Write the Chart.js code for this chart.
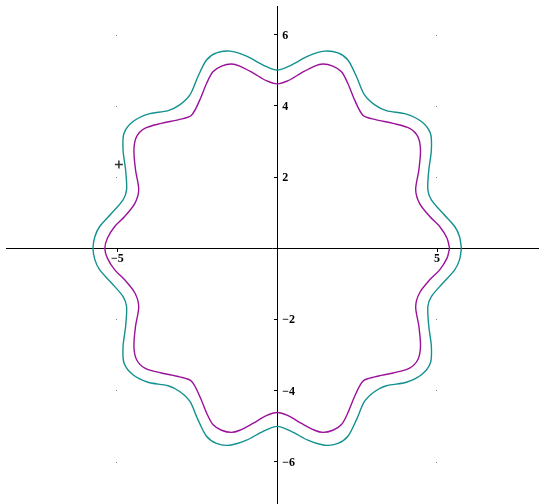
<!DOCTYPE html>
<html>
<head>
<meta charset="utf-8">
<script src="https://cdn.jsdelivr.net/npm/chart.js@4"></script>
<style>
  html, body { margin: 0; padding: 0; background: #fff; overflow: hidden; }
  #wrap { width: 539px; height: 504px; overflow: hidden; }
</style>
</head>
<body>
<div id="wrap"><canvas id="myChart" width="544" height="509"></canvas></div>
<script>
// axis ranges and ticks
const xMin = -8.48, xMax = 8.17;
const yMin = -7.18, yMax = 6.81;
const xTickVals = [-5, 5];
const yTickVals = [-6, -4, -2, 2, 4, 6];

// inner curve (magenta)
const innerX = [5.39, 5.31, 5.08, 4.77, 4.45, 4.33, 4.43, 4.48, 4.40, 4.14, 3.62, 3.05, 2.68, 2.42, 2.21, 2.01, 1.74, 1.43, 1.17, 0.76, 0.34, 0,
  -0.34, -0.76, -1.17, -1.43, -1.74, -2.01, -2.21, -2.42, -2.68, -3.05, -3.62, -4.14, -4.40, -4.48, -4.43, -4.33, -4.45, -4.77, -5.08, -5.31, -5.39,
  -5.31, -5.08, -4.77, -4.45, -4.33, -4.43, -4.48, -4.40, -4.14, -3.62, -3.05, -2.68, -2.42, -2.21, -2.01, -1.74, -1.43, -1.17, -0.76, -0.34, 0,
  0.34, 0.76, 1.17, 1.43, 1.74, 2.01, 2.21, 2.42, 2.68, 3.05, 3.62, 4.14, 4.40, 4.48, 4.43, 4.33, 4.45, 4.77, 5.08, 5.31, 5.39];
const innerY = [0, 0.28, 0.61, 0.89, 1.26, 1.64, 2.20, 2.76, 3.13, 3.37, 3.51, 3.62, 3.74, 4.17, 4.63, 4.96, 5.12, 5.18, 5.12, 4.93, 4.71, 4.62,
  4.71, 4.93, 5.12, 5.18, 5.12, 4.96, 4.63, 4.17, 3.74, 3.62, 3.51, 3.37, 3.13, 2.76, 2.20, 1.64, 1.26, 0.89, 0.61, 0.28, 0,
  -0.28, -0.61, -0.89, -1.26, -1.64, -2.20, -2.76, -3.13, -3.37, -3.51, -3.62, -3.74, -4.17, -4.63, -4.96, -5.12, -5.18, -5.12, -4.93, -4.71, -4.62,
  -4.71, -4.93, -5.12, -5.18, -5.12, -4.96, -4.63, -4.17, -3.74, -3.62, -3.51, -3.37, -3.13, -2.76, -2.20, -1.64, -1.26, -0.89, -0.61, -0.28, 0];

// outer curve (teal)
const outerX = [5.76, 5.70, 5.55, 5.18, 4.82, 4.71, 4.74, 4.82, 4.79, 4.51, 4.04, 3.41, 3.05, 2.73, 2.48, 2.21, 1.90, 1.48, 0.96, 0.44, 0,
  -0.44, -0.96, -1.48, -1.90, -2.21, -2.48, -2.73, -3.05, -3.41, -4.04, -4.51, -4.79, -4.82, -4.74, -4.71, -4.82, -5.18, -5.55, -5.70, -5.76,
  -5.70, -5.55, -5.18, -4.82, -4.71, -4.74, -4.82, -4.79, -4.51, -4.04, -3.41, -3.05, -2.73, -2.48, -2.21, -1.90, -1.48, -0.96, -0.44, 0,
  0.44, 0.96, 1.48, 1.90, 2.21, 2.48, 2.73, 3.05, 3.41, 4.04, 4.51, 4.79, 4.82, 4.74, 4.71, 4.82, 5.18, 5.55, 5.70, 5.76];
const outerY = [0, 0.33, 0.61, 0.98, 1.36, 1.64, 2.20, 2.76, 3.23, 3.56, 3.77, 3.87, 4.03, 4.31, 4.82, 5.29, 5.49, 5.54, 5.40, 5.15, 5.01,
  5.15, 5.40, 5.54, 5.49, 5.29, 4.82, 4.31, 4.03, 3.87, 3.77, 3.56, 3.23, 2.76, 2.20, 1.64, 1.36, 0.98, 0.61, 0.33, 0,
  -0.33, -0.61, -0.98, -1.36, -1.64, -2.20, -2.76, -3.23, -3.56, -3.77, -3.87, -4.03, -4.31, -4.82, -5.29, -5.49, -5.54, -5.40, -5.15, -5.01,
  -5.15, -5.40, -5.54, -5.49, -5.29, -4.82, -4.31, -4.03, -3.87, -3.77, -3.56, -3.23, -2.76, -2.20, -1.64, -1.36, -0.98, -0.61, -0.33, 0];

// trace cursor
const cursorX = [-4.95];
const cursorY = [2.35];

const tickFont = { family: '"Liberation Serif", serif', size: 12, weight: 'bold' };

function fmt(v) {
  return v < 0 ? '\u2212' + Math.abs(v) : String(v);
}
function toPts(xs, ys) {
  return xs.map((x, i) => ({ x: x, y: ys[i] }));
}

// dots at the tick crossings + y labels on the right side of the axis
const gridDots = {
  id: 'gridDots',
  beforeDatasetsDraw(chart) {
    const c = chart.ctx, sx = chart.scales.x, sy = chart.scales.y;
    c.save();
    c.fillStyle = '#808080';
    xTickVals.forEach(xv => {
      yTickVals.forEach(yv => {
        c.fillRect(Math.round(sx.getPixelForValue(xv)) - 1, Math.round(sy.getPixelForValue(yv)), 1, 1);
      });
    });
    c.fillStyle = '#000';
    c.font = 'bold 12px "Liberation Serif", serif';
    c.textAlign = 'left';
    c.textBaseline = 'middle';
    const x0 = sx.getPixelForValue(0);
    sy.ticks.forEach(t => {
      c.fillText(fmt(t.value), x0 + 5, sy.getPixelForValue(t.value) + 1);
    });
    c.restore();
  }
};

const ctx = document.getElementById('myChart').getContext('2d');
const myChart = new Chart(ctx, {
  type: 'scatter',
  data: {
    datasets: [{
      label: 'outer',
      data: toPts(outerX, outerY),
      showLine: true,
      borderColor: '#12918f',
      borderWidth: 1.4,
      pointRadius: 0,
      tension: 0.3,
      fill: false
    }, {
      label: 'inner',
      data: toPts(innerX, innerY),
      showLine: true,
      borderColor: '#9a129a',
      borderWidth: 1.4,
      pointRadius: 0,
      tension: 0.3,
      fill: false
    }, {
      label: 'cursor',
      data: toPts(cursorX, cursorY),
      pointStyle: 'cross',
      pointRadius: 4,
      borderColor: '#333',
      borderWidth: 1.5
    }]
  },
  options: {
    responsive: false,
    animation: false,
    layout: { padding: { left: 6, top: 6, right: 0, bottom: 0 } },
    plugins: { legend: { display: false }, tooltip: { enabled: false } },
    scales: {
      x: {
        type: 'linear',
        min: xMin,
        max: xMax,
        position: { y: 0 },
        border: { color: '#000', width: 1 },
        grid: { drawOnChartArea: false, drawTicks: true, tickLength: 3, color: '#000' },
        afterBuildTicks: s => { s.ticks = xTickVals.map(v => ({ value: v })); },
        ticks: { color: '#000', font: tickFont, padding: 1, maxRotation: 0, callback: v => fmt(v) }
      },
      y: {
        type: 'linear',
        min: yMin,
        max: yMax,
        position: { x: 0 },
        border: { color: '#000', width: 1 },
        grid: { drawOnChartArea: false, drawTicks: true, tickLength: 3, color: '#000' },
        afterBuildTicks: s => { s.ticks = yTickVals.map(v => ({ value: v })); },
        ticks: { display: false }
      }
    }
  },
  plugins: [gridDots]
});
</script>
</body>
</html>
